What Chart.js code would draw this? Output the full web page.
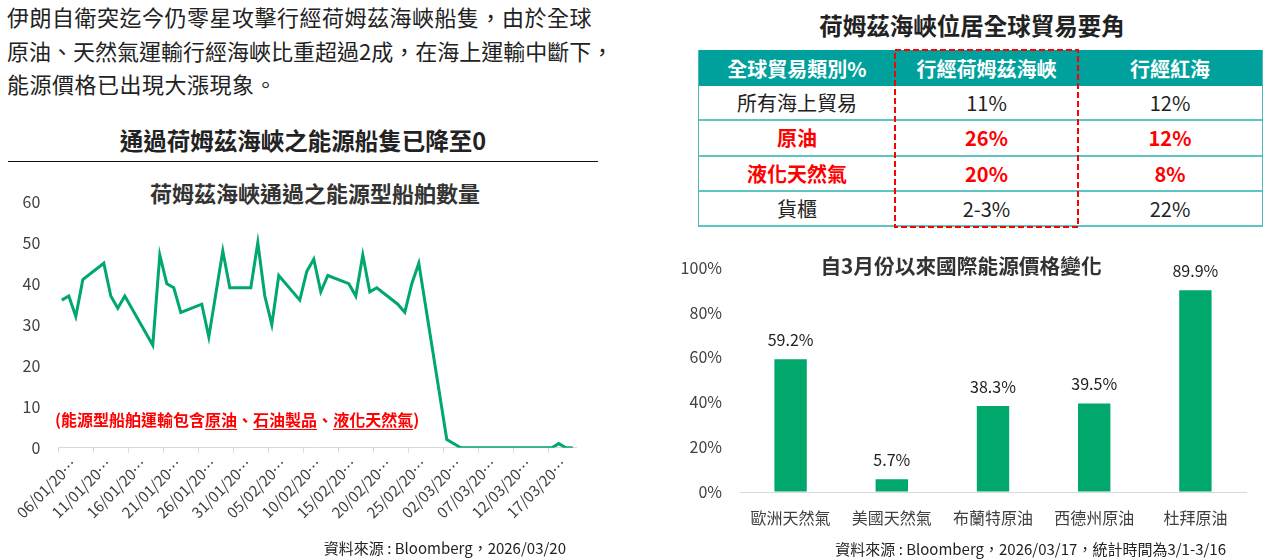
<!DOCTYPE html>
<html><head><meta charset="utf-8">
<script src="https://cdn.jsdelivr.net/npm/chart.js@4.4.1/dist/chart.umd.min.js"></script>
<style>
body{margin:0;width:1266px;height:559px;position:relative;background:#fff;overflow:hidden;font-family:"Noto Sans CJK TC","Noto Sans",sans-serif;color:#222;}
.abs{position:absolute;white-space:nowrap;}
#para{left:7px;top:0;font-size:22px;line-height:33.5px;letter-spacing:0.5px;color:#222;}
#para .l2{letter-spacing:0;}
#ltitle{left:0;width:606px;top:125px;text-align:center;font-size:23.5px;font-weight:bold;line-height:30px;color:#222;}
#lrule{left:8px;top:161px;width:590px;height:1px;background:#111;}
#lsub{left:0;width:630px;top:177px;text-align:center;font-size:22px;font-weight:bold;line-height:30px;color:#333;}
#note{left:55px;top:407px;font-size:16px;line-height:24px;color:#ff0000;font-weight:bold;}
#note u{text-decoration-color:#ff0000;text-underline-offset:3px;}
#lsrc{right:700px;top:538px;font-size:15px;line-height:20px;color:#222;}
#rtitle{left:700px;width:544px;top:10px;text-align:center;font-size:23.5px;font-weight:bold;line-height:30px;color:#222;}
#tbl{left:698px;top:50px;width:565px;border-left:1px solid #4db8b4;border-right:1px solid #4db8b4;box-sizing:border-box;}
.row{display:flex;align-items:center;box-sizing:border-box;height:35.3px;border-bottom:2px solid #5ec6c2;font-size:20px;color:#222;}
.row.hd{height:36px;background:#00a19c;color:#fff;font-weight:bold;border-bottom:none;}
.row div{text-align:center;}
.row .c0{width:196px;}.row .c1{width:183px;}.row .c2{width:184px;}
.row.red{color:#ff0000;font-weight:bold;}
#btitle{left:761px;width:400px;top:250px;text-align:center;font-size:20.7px;font-weight:bold;line-height:30px;color:#333;}
#rsrc{right:40px;top:539px;font-size:15px;line-height:20px;color:#222;}
</style></head><body>
<div id="para" class="abs">伊朗自衛突迄今仍零星攻擊行經荷姆茲海峽船隻，由於全球<br><span class="l2">原油、天然氣運輸行經海峽比重超過2成，在海上運輸中斷下，</span><br>能源價格已出現大漲現象。</div>
<div id="ltitle" class="abs">通過荷姆茲海峽之能源船隻已降至0</div>
<div id="lrule" class="abs"></div>
<div id="lsub" class="abs">荷姆茲海峽通過之能源型船舶數量</div>
<canvas id="lineChart" width="600" height="360" style="position:absolute;left:0;top:180px;"></canvas>
<div id="note" class="abs">(能源型船舶運輸包含<u>原油</u>、<u>石油製品</u>、<u>液化天然氣</u>)</div>
<div id="lsrc" class="abs">資料來源 : Bloomberg，2026/03/20</div>

<div id="rtitle" class="abs">荷姆茲海峽位居全球貿易要角</div>
<div id="tbl" class="abs"></div>
<svg class="abs" style="left:0;top:0;" width="1266" height="559"><rect x="895" y="50" width="183" height="177" fill="none" stroke="#ff0000" stroke-width="2" stroke-dasharray="6 3"/></svg>

<div id="btitle" class="abs">自3月份以來國際能源價格變化</div>
<canvas id="barChart" width="600" height="300" style="position:absolute;left:666px;top:250px;"></canvas>
<div id="rsrc" class="abs">資料來源 : Bloomberg，2026/03/17，統計時間為3/1-3/16</div>

<script>
// ---- Line chart data ----
const lineDates = [
 "06/01/2026","07/01/2026","08/01/2026","09/01/2026","10/01/2026","11/01/2026","12/01/2026","13/01/2026","14/01/2026","15/01/2026",
 "16/01/2026","17/01/2026","18/01/2026","19/01/2026","20/01/2026","21/01/2026","22/01/2026","23/01/2026","24/01/2026","25/01/2026",
 "26/01/2026","27/01/2026","28/01/2026","29/01/2026","30/01/2026","31/01/2026","01/02/2026","02/02/2026","03/02/2026","04/02/2026",
 "05/02/2026","06/02/2026","07/02/2026","08/02/2026","09/02/2026","10/02/2026","11/02/2026","12/02/2026","13/02/2026","14/02/2026",
 "15/02/2026","16/02/2026","17/02/2026","18/02/2026","19/02/2026","20/02/2026","21/02/2026","22/02/2026","23/02/2026","24/02/2026",
 "25/02/2026","26/02/2026","27/02/2026","28/02/2026","01/03/2026","02/03/2026","03/03/2026","04/03/2026","05/03/2026","06/03/2026",
 "07/03/2026","08/03/2026","09/03/2026","10/03/2026","11/03/2026","12/03/2026","13/03/2026","14/03/2026","15/03/2026","16/03/2026",
 "17/03/2026","18/03/2026","19/03/2026","20/03/2026"];
const shipCounts = [
 36,37,32,41,null,null,45,37,34,37,
 null,null,null,25,47,40,39,33,null,null,
 35,27,null,48,39,null,null,39,50,37,
 30,42,null,null,36,43,46,38,42,null,
 null,40,37,47,38,39,null,null,35,33,
 40,45,null,null,null,2,null,0,0,0,
 null,null,0,0,0,0,0,null,null,0,
 0,1,0,0];
const lineYTicks = [0,10,20,30,40,50,60];

// ---- Table data ----
const tableHeader = ["全球貿易類別%","行經荷姆茲海峽","行經紅海"];
const tableCategories = ["所有海上貿易","原油","液化天然氣","貨櫃"];
const hormuzShare = ["11%","26%","20%","2-3%"];
const redSeaShare = ["12%","12%","8%","22%"];
const highlightRows = [false,true,true,false];

// ---- Bar chart data ----
const energyNames = ["歐洲天然氣","美國天然氣","布蘭特原油","西德州原油","杜拜原油"];
const priceChange = [59.2,5.7,38.3,39.5,89.9];
const barYTicks = [0,20,40,60,80,100];

// build table
const tbl = document.getElementById('tbl');
function addRow(cells, cls){
  const r = document.createElement('div'); r.className = 'row ' + cls;
  cells.forEach((t,i)=>{ const c=document.createElement('div'); c.className='c'+i; c.textContent=t; r.appendChild(c); });
  tbl.appendChild(r);
}
addRow(tableHeader,'hd');
tableCategories.forEach((c,i)=>addRow([c,hormuzShare[i],redSeaShare[i]], highlightRows[i]?'red':''));

const FONT = '"Noto Sans CJK TC","Noto Sans",sans-serif';
const GREEN = '#00a86b';
const CLEAR = 'rgba(0,0,0,0)';

new Chart(document.getElementById('lineChart'), {
  type: 'line',
  data: { labels: lineDates, datasets: [{ data: shipCounts, borderColor: GREEN, borderWidth: 3, pointRadius: 0, pointHoverRadius: 0, tension: 0, spanGaps: true, fill: false }] },
  options: {
    responsive: false, animation: false,
    layout: { autoPadding: false, padding: { top: 21.7, right: 23.7, left: 0, bottom: 0 } },
    plugins: { legend: { display: false }, tooltip: { enabled: false } },
    scales: {
      x: {
        type: 'category', offset: true,
        grid: { display: true, drawOnChartArea: false, offset: true, tickLength: 5,
                color: ctx => (ctx.index % 5 === 0 && ctx.index < lineDates.length) ? '#d9d9d9' : CLEAR },
        border: { display: true, color: '#d9d9d9', width: 1 },
        ticks: { autoSkip: false, maxRotation: 45, minRotation: 45, labelOffset: 12, padding: 2,
                 color: '#404040', font: { family: FONT, size: 15 },
                 callback: (v, i) => i % 5 === 0 ? lineDates[i].slice(0, 8) + '…' : '' },
        afterFit: s => { s.height = 92.3; }
      },
      y: {
        min: 0, max: 60,
        afterBuildTicks: s => { s.ticks = lineYTicks.map(v => ({ value: v })); },
        grid: { display: true, drawOnChartArea: false, drawTicks: true, tickLength: 18, color: CLEAR },
        border: { display: false },
        ticks: { padding: 0, color: '#404040', font: { family: FONT, size: 16 } },
        afterFit: s => { s.width = 58.3; }
      }
    }
  }
});

const valueLabels = {
  id: 'valueLabels',
  afterDatasetsDraw(chart) {
    const ctx = chart.ctx, meta = chart.getDatasetMeta(0);
    ctx.save();
    ctx.font = '16px ' + FONT; ctx.fillStyle = '#222'; ctx.textAlign = 'center'; ctx.textBaseline = 'middle';
    meta.data.forEach((bar, i) => ctx.fillText(priceChange[i].toFixed(1) + '%', bar.x, bar.y - 19));
    ctx.restore();
  }
};

new Chart(document.getElementById('barChart'), {
  type: 'bar',
  data: { labels: energyNames, datasets: [{ data: priceChange, backgroundColor: GREEN, categoryPercentage: 1, barPercentage: 0.32 }] },
  plugins: [valueLabels],
  options: {
    responsive: false, animation: false,
    layout: { autoPadding: false, padding: { top: 17.7, right: 20, left: 0, bottom: 0 } },
    plugins: { legend: { display: false }, tooltip: { enabled: false } },
    scales: {
      x: {
        grid: { display: false, drawTicks: false },
        border: { display: true, color: '#d9d9d9', width: 1 },
        ticks: { padding: 16, color: '#404040', font: { family: FONT, size: 16 } },
        afterFit: s => { s.height = 58; }
      },
      y: {
        min: 0, max: 100,
        afterBuildTicks: s => { s.ticks = barYTicks.map(v => ({ value: v })); },
        grid: { display: true, drawOnChartArea: false, drawTicks: true, tickLength: 18, color: CLEAR },
        border: { display: false },
        ticks: { padding: 0, color: '#404040', font: { family: FONT, size: 16 }, callback: v => v + '%' },
        afterFit: s => { s.width = 74; }
      }
    }
  }
});
</script>
</body></html>
